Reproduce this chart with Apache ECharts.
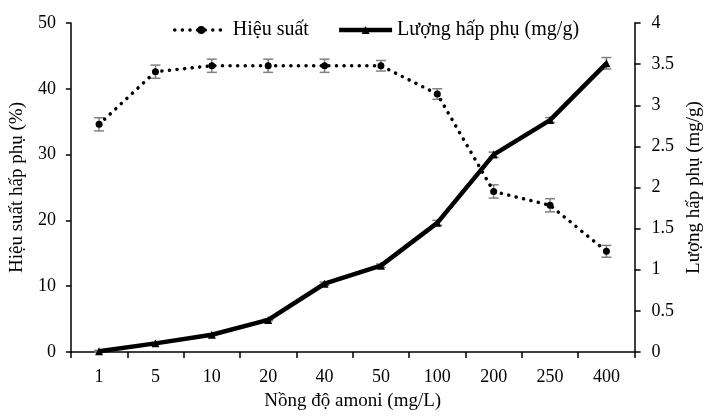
<!DOCTYPE html>
<html><head><meta charset="utf-8">
<script src="https://cdn.jsdelivr.net/npm/echarts@6/dist/echarts.min.js"></script>
<style>html,body{margin:0;padding:0;background:#fff}#c{width:712px;height:416px}</style>
</head><body><div id="c"></div>
<script>
const categories = ['1','5','10','20','40','50','100','200','250','400'];
const hieuSuat = [34.6, 42.6, 43.5, 43.5, 43.5, 43.5, 39.2, 24.4, 22.3, 15.3];
const hieuSuatErr = [1.0, 1.0, 1.0, 1.0, 1.0, 0.8, 0.8, 1.0, 1.0, 0.9];
const luong = [0.01, 0.105, 0.21, 0.39, 0.83, 1.05, 1.57, 2.40, 2.82, 3.51];
const luongErr = [0.01, 0.01, 0.01, 0.01, 0.02, 0.02, 0.03, 0.03, 0.03, 0.07];
const leftTicks = {min: 0, max: 50, interval: 10};
const rightTicks = {min: 0, max: 4, interval: 0.5};

const FONT = 'Liberation Serif';
const chart = echarts.init(document.getElementById('c'), null, {renderer: 'canvas'});

function errData(vals, errs) {
  return vals.map((v, i) => [i, v - errs[i], v + errs[i]]);
}
function errRender(params, api) {
  const x = api.value(0);
  const lo = api.coord([x, api.value(1)]);
  const hi = api.coord([x, api.value(2)]);
  const w = 5;
  const style = {stroke: '#808080', lineWidth: 1.5};
  return {type: 'group', children: [
    {type: 'line', shape: {x1: lo[0], y1: lo[1], x2: hi[0], y2: hi[1]}, style},
    {type: 'line', shape: {x1: lo[0]-w, y1: lo[1], x2: lo[0]+w, y2: lo[1]}, style},
    {type: 'line', shape: {x1: hi[0]-w, y1: hi[1], x2: hi[0]+w, y2: hi[1]}, style}
  ]};
}

chart.setOption({
  animation: false,
  textStyle: {fontFamily: FONT, color: '#000'},
  grid: {left: 69, right: 68, top: 23, bottom: 63},
  legend: {
    left: 168, top: 15, itemGap: 28, itemWidth: 53, itemHeight: 10,
    textStyle: {fontFamily: FONT, fontSize: 20, color: '#000', padding: [0, 0, 0, 0]},
    data: [
      {name: 'Hiệu suất', lineStyle: {width: 3.5, type: [0.1, 7.5], cap: 'round'}},
      {name: 'Lượng hấp phụ (mg/g)', lineStyle: {width: 4.5}}
    ]
  },
  xAxis: {
    type: 'category', data: categories, boundaryGap: true,
    name: 'Nồng độ amoni (mg/L)', nameLocation: 'middle', nameGap: 40,
    nameTextStyle: {fontFamily: FONT, fontSize: 19, color: '#000'},
    axisLine: {lineStyle: {color: '#000', width: 1.5}},
    axisTick: {show: true, inside: false, length: 6, lineStyle: {color: '#000', width: 1.5}},
    axisLabel: {fontFamily: FONT, fontSize: 18, color: '#000', margin: 16, interval: 0},
    splitLine: {show: false}
  },
  yAxis: [{
    type: 'value', position: 'left', min: leftTicks.min, max: leftTicks.max, interval: leftTicks.interval,
    name: 'Hiệu suất hấp phụ (%)', nameLocation: 'middle', nameGap: 42, nameRotate: 90,
    nameTextStyle: {fontFamily: FONT, fontSize: 19, color: '#000'},
    axisLine: {show: true, lineStyle: {color: '#000', width: 1.5}},
    axisTick: {show: true, length: 5, lineStyle: {color: '#000', width: 1.5}},
    axisLabel: {fontFamily: FONT, fontSize: 18, color: '#000', margin: 15},
    splitLine: {show: false}
  }, {
    type: 'value', position: 'right', min: rightTicks.min, max: rightTicks.max, interval: rightTicks.interval,
    name: 'Lượng hấp phụ (mg/g)', nameLocation: 'middle', nameGap: 47, nameRotate: 90,
    nameTextStyle: {fontFamily: FONT, fontSize: 19, color: '#000'},
    axisLine: {show: true, lineStyle: {color: '#000', width: 1.5}},
    axisTick: {show: true, length: 6, lineStyle: {color: '#000', width: 1.5}},
    axisLabel: {fontFamily: FONT, fontSize: 18, color: '#000', margin: 17},
    splitLine: {show: false}
  }],
  series: [{
    name: 'Hiệu suất', type: 'line', yAxisIndex: 0, data: hieuSuat,
    symbol: 'circle', symbolSize: 7,
    itemStyle: {color: '#000'},
    lineStyle: {color: '#000', width: 3.5, type: [0.1, 7.5], cap: 'round'},
    z: 3
  }, {
    name: 'Lượng hấp phụ (mg/g)', type: 'line', yAxisIndex: 1, data: luong,
    symbol: 'triangle', symbolSize: 8,
    itemStyle: {color: '#000'},
    lineStyle: {color: '#000', width: 4.5},
    z: 3
  }, {
    type: 'custom', yAxisIndex: 0, data: errData(hieuSuat, hieuSuatErr),
    renderItem: errRender, encode: {x: 0, y: [1, 2]}, z: 2, silent: true
  }, {
    type: 'custom', yAxisIndex: 1, data: errData(luong, luongErr),
    renderItem: errRender, encode: {x: 0, y: [1, 2]}, z: 2, silent: true
  }]
});
</script></body></html>
